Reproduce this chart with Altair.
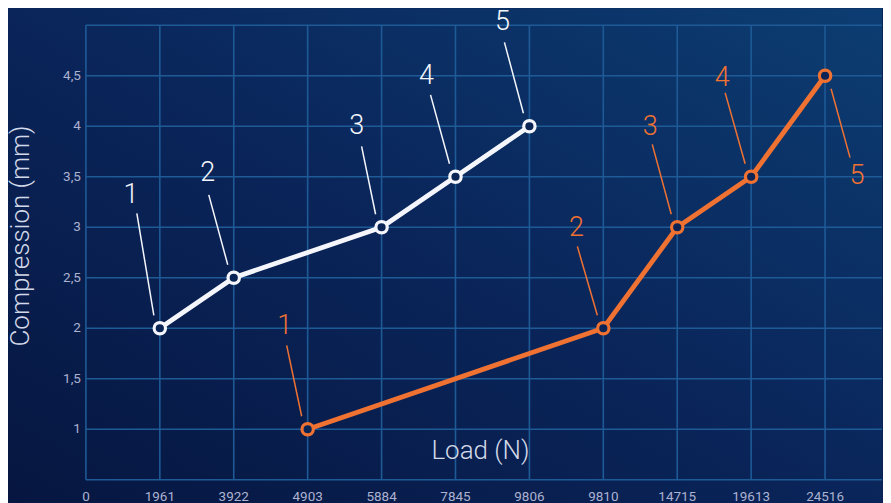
import altair as alt
import pandas as pd

# ---------------- data ----------------
load_labels = ["0", "1961", "3922", "4903", "5884", "7845", "9806",
               "9810", "14715", "19613", "24516"]
y_ticks = [0.5, 1, 1.5, 2, 2.5, 3, 3.5, 4, 4.5, 5]
y_label_ticks = [1, 1.5, 2, 2.5, 3, 3.5, 4, 4.5]
x_title = "Load (N)"
y_title = "Compression (mm)"

a_load = [1961, 3922, 5884, 7845, 9806]
a_comp = [2, 2.5, 3, 3.5, 4]
b_load = [4903, 9810, 14715, 19613, 24516]
b_comp = [1, 2, 3, 3.5, 4.5]
point_labels = ["1", "2", "3", "4", "5"]

# ---------------- layout ----------------
W, H = 797, 455
PX_X = 74.0                      # pixels per category step
X_MAX = W / PX_X
Y_MIN, Y_MAX = 0.5, 5.0
PX_Y = H / (Y_MAX - Y_MIN)

# callout offsets in pixels (label dx, dy, leader end dx, dy)
callouts = {
    "A": [(-29, -133, -23, -115), (-26, -105, -25, -83), (-25, -101, -20, -81),
          (-29, -101, -25, -82), (-27, -104, -25, -84)],
    "B": [(-23, -103, -21, -84), (-27, -100, -26, -82), (-27, -100, -25, -83),
          (-29, -99, -26, -84), (32, 100, 25, 82)],
}

WHITE = "#f4f6fb"
ORANGE = "#f07232"
GRID = "#1e5a96"
NAVY = "#0b2456"
TICK = "#acb2d0"
TITLE = "#d3d9e8"
FONT = "Roboto"

rows = []
for name, loads, comps in (("A", a_load, a_comp), ("B", b_load, b_comp)):
    for i, (ld, c) in enumerate(zip(loads, comps)):
        idx = load_labels.index(str(ld))
        ldx, ldy, ex, ey = callouts[name][i]
        sgn = -1 if ldy < 0 else 1
        rows.append({
            "series": name, "idx": idx, "comp": c, "label": point_labels[i],
            "lab_x": idx + ldx / PX_X, "lab_y": c - ldy / PX_Y,
            "lx1": idx + sgn * 6 / PX_X, "ly1": c - sgn * 13 / PX_Y,
            "lx2": idx + ex / PX_X, "ly2": c - ey / PX_Y,
        })
df = pd.DataFrame(rows)

xscale = alt.Scale(domain=[0, X_MAX], nice=False, zero=False)
yscale = alt.Scale(domain=[Y_MIN, Y_MAX], nice=False, zero=False)
cscale = alt.Scale(domain=["A", "B"], range=[WHITE, ORANGE])
color = alt.Color("series:N", scale=cscale, legend=None)

bg = alt.Chart(pd.DataFrame({"a": [0]})).mark_rect(
    color=alt.Gradient(gradient="linear", x1=0, y1=1, x2=1, y2=0,
                       stops=[alt.GradientStop(color="#061640", offset=0),
                              alt.GradientStop(color="#0a255a", offset=0.5),
                              alt.GradientStop(color="#0c3d72", offset=1)])
).encode(x=alt.value(-78), x2=alt.value(W), y=alt.value(-17), y2=alt.value(H + 23))

vgrid = alt.Chart(pd.DataFrame({"g": list(range(len(load_labels)))})).mark_rule(
    color=GRID, strokeWidth=1.6).encode(x=alt.X("g:Q", scale=xscale, axis=None))
hgrid = alt.Chart(pd.DataFrame({"g": y_ticks})).mark_rule(
    color=GRID, strokeWidth=1.6).encode(y=alt.Y("g:Q", scale=yscale, axis=None))

# tick labels (drawn as text through the scales)
xlab_df = pd.DataFrame({"idx": list(range(len(load_labels))), "t": load_labels})
xlabels = alt.Chart(xlab_df).mark_text(font=FONT, fontSize=13.5, color=TICK,
                                       align="center", baseline="middle").encode(
    x=alt.X("idx:Q", axis=None), y=alt.value(H + 17), text="t:N")

ylab_df = pd.DataFrame({"v": y_label_ticks,
                        "t": [f"{v:g}".replace(".", ",") for v in y_label_ticks]})
ylabels = alt.Chart(ylab_df).mark_text(font=FONT, fontSize=13.5, color=TICK,
                                       align="right", baseline="middle").encode(
    x=alt.value(-5), y=alt.Y("v:Q", axis=None), text="t:N")

xt = alt.Chart(pd.DataFrame({"t": [x_title]})).mark_text(
    font=FONT, fontSize=26, fontWeight=300, color=TITLE, align="center", baseline="middle"
).encode(x=alt.value(395), y=alt.value(H - 29), text="t:N")
yt = alt.Chart(pd.DataFrame({"t": [y_title]})).mark_text(
    font=FONT, fontSize=26, fontWeight=300, color=TITLE, align="center", baseline="middle",
    angle=270
).encode(x=alt.value(-65), y=alt.value(211), text="t:N")

lines = alt.Chart(df).mark_line(strokeWidth=4.8).encode(
    x=alt.X("idx:Q", scale=xscale, axis=None),
    y=alt.Y("comp:Q", scale=yscale, axis=None),
    color=color, order="idx:Q")

leaders = alt.Chart(df).mark_rule(strokeWidth=1.5).encode(
    x=alt.X("lx1:Q", axis=None), y=alt.Y("ly1:Q", axis=None),
    x2="lx2:Q", y2="ly2:Q", color=color)

points = alt.Chart(df).mark_point(shape="circle", fill=NAVY, fillOpacity=1, opacity=1,
                                  strokeWidth=3.2, size=130).encode(
    x=alt.X("idx:Q", axis=None), y=alt.Y("comp:Q", axis=None), color=color)

texts = alt.Chart(df).mark_text(font=FONT, fontSize=27, fontWeight=300,
                                align="center", baseline="middle").encode(
    x=alt.X("lab_x:Q", axis=None), y=alt.Y("lab_y:Q", axis=None),
    text="label:N", color=color)

chart = alt.layer(bg, vgrid, hgrid, xlabels, ylabels, xt, yt,
                  leaders, lines, points, texts).properties(
    width=W, height=H, padding=0
).configure(background="#0a2152").configure_view(stroke=None)

chart.save("out.html", embed_options={"renderer": "svg", "actions": False})
